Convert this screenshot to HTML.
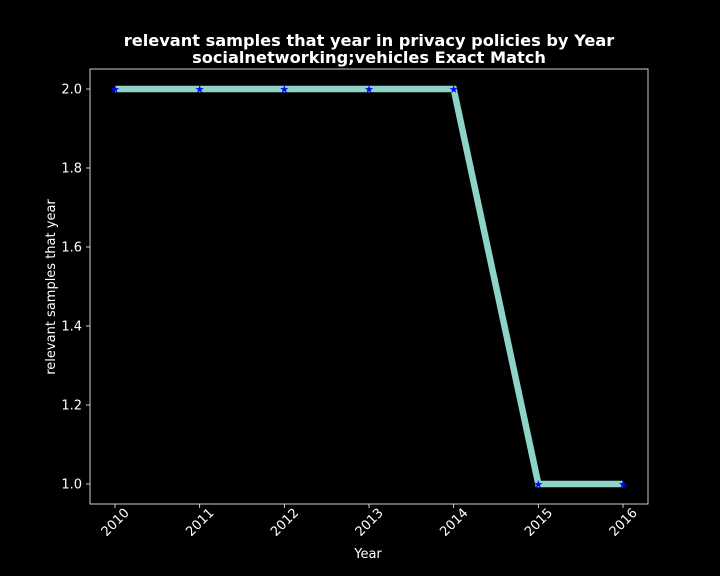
<!DOCTYPE html>
<html><head><meta charset="utf-8"><style>body{margin:0;background:#000}svg{display:block}text{font-family:"DejaVu Sans","Liberation Sans",sans-serif;fill:#fff}</style></head>
<body>
<svg id="chart" width="720" height="576">
<rect width="720" height="576" fill="#000"/>
<text x="369" y="46" font-size="16.2" font-weight="bold" text-anchor="middle">relevant samples that year in privacy policies by Year</text>
<text x="369" y="63" font-size="16.2" font-weight="bold" text-anchor="middle">socialnetworking;vehicles Exact Match</text>
<rect x="90" y="69" width="558" height="435" fill="none" stroke="#fff" stroke-width="0.8"/>
<g id="yt"></g><g id="xt"></g><g id="series"></g>
<text x="368" y="558" font-size="13" text-anchor="middle">Year</text>
<text transform="translate(55,287) rotate(-90)" font-size="13" text-anchor="middle">relevant samples that year</text>
</svg>
<script>
const years=[2010,2011,2012,2013,2014,2015,2016];
const values=[2,2,2,2,2,1,1];
const yTicks=[1.0,1.2,1.4,1.6,1.8,2.0];
const NS="http://www.w3.org/2000/svg";
const xs=v=>115+(v-2010)*(623-115)/6;
const ys=v=>484-(v-1)*(484-89);
function mk(t,a,p){const e=document.createElementNS(NS,t);for(const k in a)e.setAttribute(k,a[k]);p.appendChild(e);return e;}
const yt=document.getElementById('yt'),xt=document.getElementById('xt'),sr=document.getElementById('series');
yTicks.forEach(v=>{const y=ys(v);
const l=mk('line',{x1:86,x2:90,y1:y,y2:y,stroke:'#fff','stroke-width':0.8},yt);


const t=mk('text',{x:82,y:y+4.5,'font-size':13,'text-anchor':'end'},yt);t.textContent=v.toFixed(1);

});
years.forEach(v=>{const x=xs(v);
const l=mk('line',{x1:x,x2:x,y1:504,y2:508,stroke:'#fff','stroke-width':0.8},xt);


const t=mk('text',{x:0,y:4.5,'font-size':13,'text-anchor':'middle',transform:`translate(${x},${522}) rotate(-45)`},xt);t.textContent=v;

});
const pts=years.map((y,i)=>xs(y)+','+ys(values[i])).join(' ');
const pl=mk('polyline',{points:pts,fill:'none',stroke:'#8dd3c7','stroke-width':6.5,'stroke-linejoin':'miter'},sr);


years.forEach((y,i)=>{const m=mk('text',{x:xs(y),y:ys(values[i])+4,'font-size':11,'text-anchor':'middle',style:'fill:#0000ff'},sr);m.textContent='★';

});
</script>
</body></html>
